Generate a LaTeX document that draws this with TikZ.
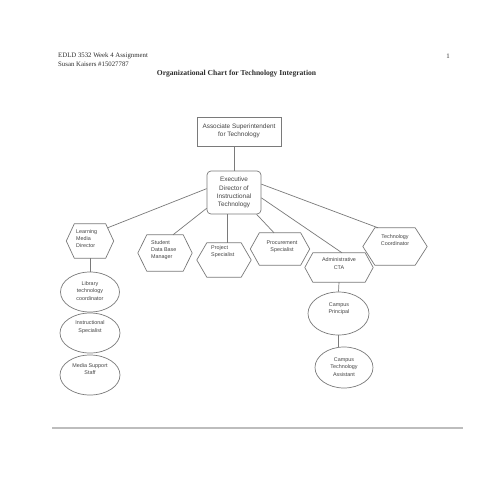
\documentclass[tikz,border=0pt]{standalone}
\usepackage{fontspec}
\setmainfont{Liberation Serif}
\setsansfont{Liberation Sans}
\usetikzlibrary{shapes.geometric}
\definecolor{linec}{HTML}{7A7A7A}
\definecolor{txtc}{HTML}{444444}
\definecolor{headc}{HTML}{2E2E2E}
\definecolor{rulec}{HTML}{BDBDBD}
\newcommand\hexout[2]{\draw[outl] (#1.west) -- ([xshift=#2]#1.north west) -- ([xshift=-#2]#1.north east) -- (#1.east) -- ([xshift=-#2]#1.south east) -- ([xshift=#2]#1.south west) -- cycle;}
\begin{document}
\begin{tikzpicture}[x=1pt,y=-1pt,
  outl/.style={draw=linec, line width=0.7pt},
  edge/.style={draw=linec, line width=0.7pt},
  hexbox/.style={draw=none, inner sep=0pt},
  ellbox/.style={ellipse, draw=linec, line width=0.7pt, inner sep=0pt},
  lbl/.style={font=\sffamily\fontsize{5.4}{7.2}\selectfont, text=txtc, inner sep=0pt},
  blbl/.style={font=\sffamily\fontsize{6.4}{8.2}\selectfont, text=txtc, inner sep=0pt, align=center},
  hdr/.style={font=\rmfamily\fontsize{6.8}{8}\selectfont, text=headc, inner sep=0pt},
  ttl/.style={font=\rmfamily\bfseries\fontsize{7.6}{9}\selectfont, text=headc, inner sep=0pt}]
\useasboundingbox[fill=white] (0,0) rectangle (480,480);

% header
\node[hdr, anchor=west] (h1) at (58,56) {EDLD 3532 Week 4 Assignment};
\node[hdr, anchor=west] (h2) at (58,64) {Susan Kaisers \#15027787};
\node[hdr] (pg) at (448,56) {1};
\node[ttl] (title) at (236.5,74) {Organizational Chart for Technology Integration};

% top boxes
\node[draw=linec, line width=0.7pt, minimum width=84pt, minimum height=29pt, inner sep=0pt] (asup) at (239,131.5) {};
\node[blbl] (asupt) at (239,130.5) {Associate Superintendent\\for Technology};
\node[draw=linec, line width=0.7pt, rounded corners=4pt, minimum width=54pt, minimum height=43pt, inner sep=0pt] (exec) at (234,192.5) {};
\node[blbl] (exect) at (234,192.5) {Executive\\Director of\\Instructional\\Technology};

% hexagons
\node[hexbox, minimum width=47pt, minimum height=34pt] (lmd) at (90,241) {};
\hexout{lmd}{8}
\node[lbl, anchor=west, align=left] (lmdt) at (76,238.5) {Learning\\Media\\Director};

\node[hexbox, minimum width=54pt, minimum height=36pt] (sdbm) at (165,253) {};
\hexout{sdbm}{9}
\node[lbl, anchor=west, align=left] (sdbmt) at (151,250) {Student\\Data Base\\Manager};

\node[hexbox, minimum width=54pt, minimum height=34pt] (proj) at (224,260) {};
\hexout{proj}{10}
\node[lbl, anchor=west, align=left] (projt) at (211,251.5) {Project\\Specialist};

\node[hexbox, minimum width=59pt, minimum height=32pt] (proc) at (280,249) {};
\hexout{proc}{9}
\node[lbl, align=center] (proct) at (282,246.5) {Procurement\\Specialist};

\node[hexbox, minimum width=68pt, minimum height=29pt] (adm) at (339,267.5) {};
\hexout{adm}{8}
\node[lbl, align=center] (admt) at (339,263.5) {Administrative\\CTA};

\node[hexbox, minimum width=64pt, minimum height=37pt] (tc) at (395,246.5) {};
\hexout{tc}{12}
\node[lbl, align=center] (tct) at (395,240) {Technology\\Coordinator};

% ellipses
\node[ellbox, minimum width=59pt, minimum height=40pt] (lib) at (90,292) {};
\node[lbl, align=center] (libt) at (90,291) {Library\\technology\\coordinator};
\node[ellbox, minimum width=60pt, minimum height=40pt] (ins) at (90,333) {};
\node[lbl, align=center] (inst) at (90,327) {Instructional\\Specialist};
\node[ellbox, minimum width=60pt, minimum height=40pt] (mss) at (90,375) {};
\node[lbl, align=center] (msst) at (90,369) {Media Support\\Staff};

\node[ellbox, minimum width=61pt, minimum height=43pt] (cp) at (338.5,313.5) {};
\node[lbl, align=center] (cpt) at (339,309) {Campus\\Principal};
\node[ellbox, minimum width=58pt, minimum height=41pt] (cta) at (344,367.5) {};
\node[lbl, align=center] (ctat) at (344,367) {Campus\\Technology\\Assistant};

% connectors
\draw[edge] (exec.north) -- (exec.north |- asup.south);
\draw[edge] (exec.172.6) -- ([xshift=-6.1pt,yshift=-4pt]lmd.north east);
\draw[edge] (exec.210) -- ([xshift=8pt]sdbm.north);
\draw[edge] ([xshift=3pt]proj.north) -- ([xshift=3pt]proj.north |- exec.south);
\draw[edge] (exec.316) -- ([xshift=-6pt]proc.north);
\draw[edge] (exec.349) -- ([xshift=3pt]adm.north);
\draw[edge] (exec.17) -- ([xshift=-17pt]tc.north);
\draw[edge] (lmd.south) -- (lib.north);
\draw[edge] (adm.south) -- (cp.north);
\draw[edge] (cp.south) -- (cp.south |- cta.north);

% bottom rule
\coordinate (rl) at (52,428);
\coordinate (rr) at (463,428);
\draw[draw=rulec, line width=1.4pt] (rl) -- (rr);
\end{tikzpicture}
\end{document}
